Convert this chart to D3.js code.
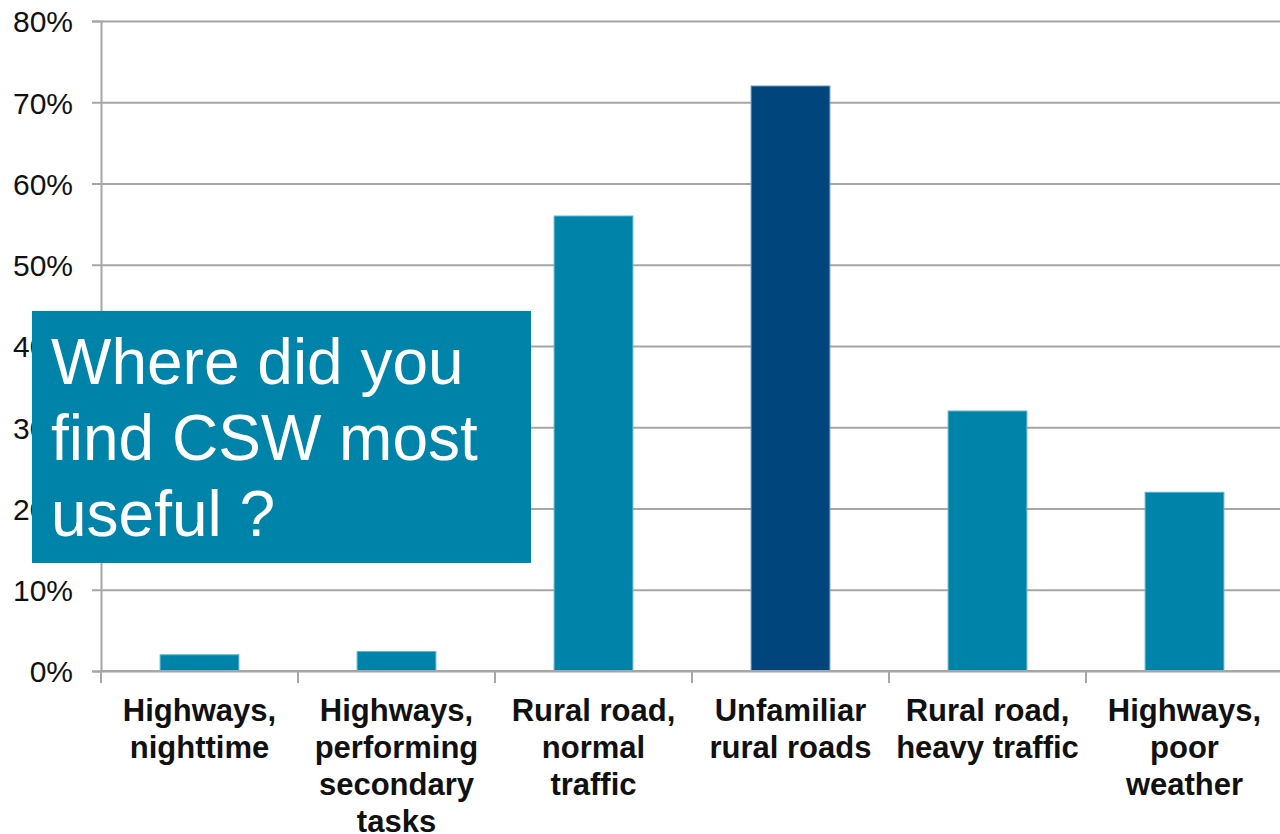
<!DOCTYPE html>
<html>
<head>
<meta charset="utf-8">
<script src="https://cdn.jsdelivr.net/npm/d3@7"></script>
<style>
  body { margin: 0; background: #fff; }
  svg { display: block; font-family: "Liberation Sans", Arial, sans-serif; }
</style>
</head>
<body>
<div id="chart"></div>
<script>
var categories = [
	"Highways,\nnighttime",
	"Highways,\nperforming\nsecondary\ntasks",
	"Rural road,\nnormal\ntraffic",
	"Unfamiliar\nrural roads",
	"Rural road,\nheavy traffic",
	"Highways,\npoor\nweather"
];
var values = [0.02, 0.024, 0.56, 0.72, 0.32, 0.22];
var highlight = [0, 0, 0, 1, 0, 0];
var yTicks = [0, 0.1, 0.2, 0.3, 0.4, 0.5, 0.6, 0.7, 0.8];
var titleLines = ["Where did you", "find CSW most", "useful ?"];

var width = 1280, height = 834;
var margin = {top: 21, right: -3, bottom: 163, left: 101};
var plotW = width - margin.left - margin.right,
	plotH = height - margin.top - margin.bottom;

var xScale = d3.scaleBand().domain(categories).range([0, plotW]).padding(0);
var yScale = d3.scaleLinear().domain([0, 0.8]).range([plotH, 0]);
var colorScale = d3.scaleOrdinal().domain([0, 1]).range(["#0083a9", "#00457c"]);
var strokeScale = d3.scaleOrdinal().domain([0, 1]).range(["#5fb6cf", "#6f95b5"]);

var svg = d3.select("#chart")
	.append("svg")
	.attr("width", width)
	.attr("height", height)
	.append("g")
	.attr("transform", "translate(" + margin.left + "," + margin.top + ")");

// gridlines
svg.append("g")
	.attr("class", "grid")
	.call(d3.axisLeft(yScale).tickValues(yTicks).tickSize(-plotW).tickFormat(""))
	.call(function(g) { g.select(".domain").remove(); })
	.selectAll("line")
	.attr("stroke", "#a6a6a6")
	.attr("stroke-width", 2);

// y axis
var yAxis = svg.append("g")
	.attr("class", "y axis")
	.call(d3.axisLeft(yScale).tickValues(yTicks).tickSize(9).tickPadding(19).tickFormat(d3.format(".0%")));
yAxis.select(".domain").attr("stroke", "#a6a6a6").attr("stroke-width", 2);
yAxis.selectAll(".tick line").attr("stroke", "#a6a6a6").attr("stroke-width", 2);
yAxis.selectAll(".tick text")
	.attr("fill", "#111")
	.style("font-size", "30px")
	.attr("dy", "0.36em");

// bars
svg.selectAll(".bar")
	.data(values)
	.enter()
	.append("rect")
	.attr("class", "bar")
	.attr("x", function(d, i) { return xScale(categories[i]) + xScale.bandwidth() * 0.3; })
	.attr("width", xScale.bandwidth() * 0.4)
	.attr("y", function(d) { return yScale(d); })
	.attr("height", function(d) { return yScale(0) - yScale(d); })
	.attr("fill", function(d, i) { return colorScale(highlight[i]); })
	.attr("stroke", function(d, i) { return strokeScale(highlight[i]); })
	.attr("stroke-width", 1);

// x axis
var xAxis = svg.append("g")
	.attr("class", "x axis")
	.attr("transform", "translate(0," + plotH + ")");
xAxis.append("line")
	.attr("x1", 0).attr("x2", plotW)
	.attr("stroke", "#a6a6a6").attr("stroke-width", 2);
xAxis.selectAll(".xtick")
	.data(categories.concat(["end"]))
	.enter()
	.append("line")
	.attr("class", "xtick")
	.attr("x1", function(d, i) { return i < categories.length ? xScale(d) : plotW; })
	.attr("x2", function(d, i) { return i < categories.length ? xScale(d) : plotW; })
	.attr("y1", 0).attr("y2", 12)
	.attr("stroke", "#a6a6a6").attr("stroke-width", 2);

var labels = xAxis.selectAll(".xlabel")
	.data(categories)
	.enter()
	.append("text")
	.attr("class", "xlabel")
	.attr("x", function(d) { return xScale(d) + xScale.bandwidth() / 2; })
	.attr("y", 50)
	.attr("text-anchor", "middle")
	.style("font-size", "31px")
	.style("font-weight", "bold")
	.attr("fill", "#111");
labels.selectAll("tspan")
	.data(function(d) { return d.split("\n"); })
	.enter()
	.append("tspan")
	.attr("x", function() { return d3.select(this.parentNode).attr("x"); })
	.attr("dy", function(d, i) { return i === 0 ? 0 : 37; })
	.text(function(d) { return d; });

// title box
var box = d3.select("#chart svg").append("g").attr("class", "title");
box.append("rect")
	.attr("x", 32).attr("y", 311)
	.attr("width", 499).attr("height", 252)
	.attr("fill", "#0083a9");
box.selectAll("text")
	.data(titleLines)
	.enter()
	.append("text")
	.attr("x", 51)
	.attr("y", function(d, i) { return 384 + i * 76; })
	.attr("fill", "#fff")
	.style("font-size", "64px")
	.text(function(d) { return d; });
</script>
</body>
</html>
